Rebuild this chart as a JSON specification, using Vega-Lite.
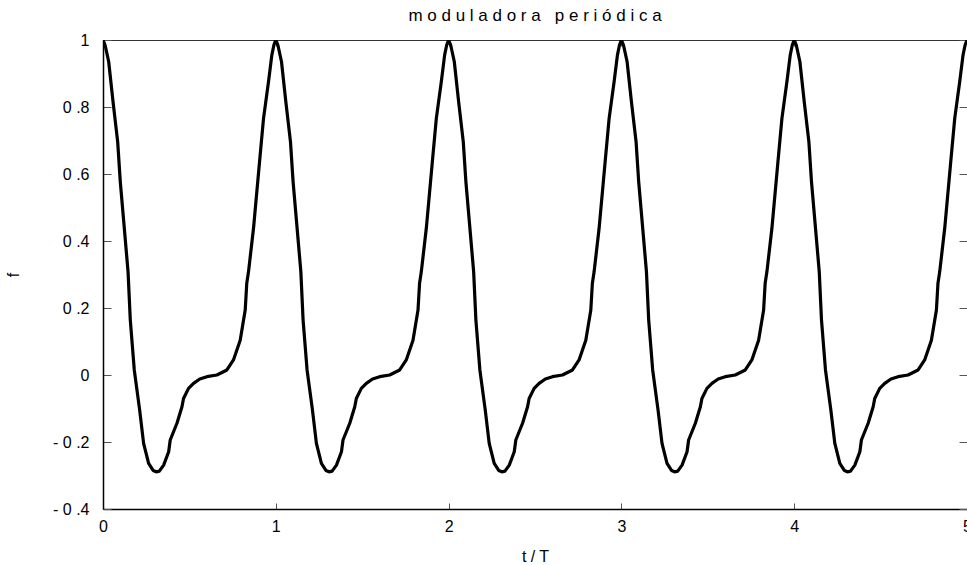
{
  "$schema": "https://vega.github.io/schema/vega-lite/v6.json",
  "width": 864,
  "height": 469,
  "autosize": {"type": "none"},
  "padding": {"left": 103, "top": 40, "right": 0, "bottom": 56},
  "background": "white",
  "config": {
    "view": {"stroke": null},
    "axis": {
      "grid": false,
      "labelFont": "Liberation Sans",
      "titleFont": "Liberation Sans",
      "labelFontSize": 16,
      "titleFontSize": 16,
      "labelColor": "black",
      "titleColor": "black",
      "titleFontWeight": "normal",
      "tickColor": "#555",
      "tickWidth": 1,
      "domainColor": "black",
      "domainWidth": 1.5
    }
  },
  "title": {
    "text": "m o d u l a d o r a \u00a0 p e r i ó d i c a",
    "font": "Liberation Sans",
    "fontSize": 17,
    "fontWeight": "normal",
    "color": "black",
    "anchor": "middle",
    "offset": 7
  },
  "data": {
    "values": [
      {"t":0,"f":1},{"t":0.012,"f":0.985},{"t":0.033,"f":0.935},{"t":0.058,"f":0.816},{"t":0.085,"f":0.696},{"t":0.1,"f":0.577},{"t":0.12,"f":0.458},{"t":0.145,"f":0.308},{"t":0.158,"f":0.164},{"t":0.181,"f":0.015},{"t":0.212,"f":-0.104},{"t":0.235,"f":-0.204},{"t":0.264,"f":-0.264},{"t":0.29,"f":-0.285},{"t":0.308,"f":-0.289},{"t":0.326,"f":-0.287},{"t":0.351,"f":-0.269},{"t":0.38,"f":-0.229},{"t":0.389,"f":-0.194},{"t":0.428,"f":-0.144},{"t":0.457,"f":-0.095},{"t":0.466,"f":-0.07},{"t":0.495,"f":-0.04},{"t":0.524,"f":-0.025},{"t":0.56,"f":-0.012},{"t":0.601,"f":-0.005},{"t":0.659,"f":0},{"t":0.717,"f":0.015},{"t":0.755,"f":0.045},{"t":0.794,"f":0.104},{"t":0.823,"f":0.194},{"t":0.832,"f":0.274},{"t":0.842,"f":0.308},{"t":0.871,"f":0.438},{"t":0.906,"f":0.637},{"t":0.929,"f":0.766},{"t":0.958,"f":0.876},{"t":0.977,"f":0.955},{"t":0.989,"f":0.985},
      {"t":1,"f":1},{"t":1.012,"f":0.985},{"t":1.033,"f":0.935},{"t":1.058,"f":0.816},{"t":1.085,"f":0.696},{"t":1.1,"f":0.577},{"t":1.12,"f":0.458},{"t":1.145,"f":0.308},{"t":1.158,"f":0.164},{"t":1.181,"f":0.015},{"t":1.212,"f":-0.104},{"t":1.235,"f":-0.204},{"t":1.264,"f":-0.264},{"t":1.29,"f":-0.285},{"t":1.308,"f":-0.289},{"t":1.326,"f":-0.287},{"t":1.351,"f":-0.269},{"t":1.38,"f":-0.229},{"t":1.389,"f":-0.194},{"t":1.428,"f":-0.144},{"t":1.457,"f":-0.095},{"t":1.466,"f":-0.07},{"t":1.495,"f":-0.04},{"t":1.524,"f":-0.025},{"t":1.56,"f":-0.012},{"t":1.601,"f":-0.005},{"t":1.659,"f":0},{"t":1.717,"f":0.015},{"t":1.755,"f":0.045},{"t":1.794,"f":0.104},{"t":1.823,"f":0.194},{"t":1.832,"f":0.274},{"t":1.842,"f":0.308},{"t":1.871,"f":0.438},{"t":1.906,"f":0.637},{"t":1.929,"f":0.766},{"t":1.958,"f":0.876},{"t":1.977,"f":0.955},{"t":1.989,"f":0.985},
      {"t":2,"f":1},{"t":2.012,"f":0.985},{"t":2.033,"f":0.935},{"t":2.058,"f":0.816},{"t":2.085,"f":0.696},{"t":2.1,"f":0.577},{"t":2.12,"f":0.458},{"t":2.145,"f":0.308},{"t":2.158,"f":0.164},{"t":2.181,"f":0.015},{"t":2.212,"f":-0.104},{"t":2.235,"f":-0.204},{"t":2.264,"f":-0.264},{"t":2.29,"f":-0.285},{"t":2.308,"f":-0.289},{"t":2.326,"f":-0.287},{"t":2.351,"f":-0.269},{"t":2.38,"f":-0.229},{"t":2.389,"f":-0.194},{"t":2.428,"f":-0.144},{"t":2.457,"f":-0.095},{"t":2.466,"f":-0.07},{"t":2.495,"f":-0.04},{"t":2.524,"f":-0.025},{"t":2.56,"f":-0.012},{"t":2.601,"f":-0.005},{"t":2.659,"f":0},{"t":2.717,"f":0.015},{"t":2.755,"f":0.045},{"t":2.794,"f":0.104},{"t":2.823,"f":0.194},{"t":2.832,"f":0.274},{"t":2.842,"f":0.308},{"t":2.871,"f":0.438},{"t":2.906,"f":0.637},{"t":2.929,"f":0.766},{"t":2.958,"f":0.876},{"t":2.977,"f":0.955},{"t":2.989,"f":0.985},
      {"t":3,"f":1},{"t":3.012,"f":0.985},{"t":3.033,"f":0.935},{"t":3.058,"f":0.816},{"t":3.085,"f":0.696},{"t":3.1,"f":0.577},{"t":3.12,"f":0.458},{"t":3.145,"f":0.308},{"t":3.158,"f":0.164},{"t":3.181,"f":0.015},{"t":3.212,"f":-0.104},{"t":3.235,"f":-0.204},{"t":3.264,"f":-0.264},{"t":3.29,"f":-0.285},{"t":3.308,"f":-0.289},{"t":3.326,"f":-0.287},{"t":3.351,"f":-0.269},{"t":3.38,"f":-0.229},{"t":3.389,"f":-0.194},{"t":3.428,"f":-0.144},{"t":3.457,"f":-0.095},{"t":3.466,"f":-0.07},{"t":3.495,"f":-0.04},{"t":3.524,"f":-0.025},{"t":3.56,"f":-0.012},{"t":3.601,"f":-0.005},{"t":3.659,"f":0},{"t":3.717,"f":0.015},{"t":3.755,"f":0.045},{"t":3.794,"f":0.104},{"t":3.823,"f":0.194},{"t":3.832,"f":0.274},{"t":3.842,"f":0.308},{"t":3.871,"f":0.438},{"t":3.906,"f":0.637},{"t":3.929,"f":0.766},{"t":3.958,"f":0.876},{"t":3.977,"f":0.955},{"t":3.989,"f":0.985},
      {"t":4,"f":1},{"t":4.012,"f":0.985},{"t":4.033,"f":0.935},{"t":4.058,"f":0.816},{"t":4.085,"f":0.696},{"t":4.1,"f":0.577},{"t":4.12,"f":0.458},{"t":4.145,"f":0.308},{"t":4.158,"f":0.164},{"t":4.181,"f":0.015},{"t":4.212,"f":-0.104},{"t":4.235,"f":-0.204},{"t":4.264,"f":-0.264},{"t":4.29,"f":-0.285},{"t":4.308,"f":-0.289},{"t":4.326,"f":-0.287},{"t":4.351,"f":-0.269},{"t":4.38,"f":-0.229},{"t":4.389,"f":-0.194},{"t":4.428,"f":-0.144},{"t":4.457,"f":-0.095},{"t":4.466,"f":-0.07},{"t":4.495,"f":-0.04},{"t":4.524,"f":-0.025},{"t":4.56,"f":-0.012},{"t":4.601,"f":-0.005},{"t":4.659,"f":0},{"t":4.717,"f":0.015},{"t":4.755,"f":0.045},{"t":4.794,"f":0.104},{"t":4.823,"f":0.194},{"t":4.832,"f":0.274},{"t":4.842,"f":0.308},{"t":4.871,"f":0.438},{"t":4.906,"f":0.637},{"t":4.929,"f":0.766},{"t":4.958,"f":0.876},{"t":4.977,"f":0.955},{"t":4.989,"f":0.985},
      {"t":5,"f":1}
    ]
  },
  "layer": [
    {
      "mark": {"type": "line", "color": "black", "strokeWidth": 3.2, "clip": true, "strokeJoin": "round"},
      "encoding": {
        "x": {
          "field": "t", "type": "quantitative",
          "scale": {"domain": [0, 5], "nice": false, "zero": false},
          "axis": {"orient": "bottom", "title": "t / T", "values": [0, 1, 2, 3, 4, 5], "tickSize": -6, "labelPadding": 15, "titlePadding": 14, "labelFlush": false, "labelOverlap": false}
        },
        "y": {
          "field": "f", "type": "quantitative",
          "scale": {"domain": [-0.4, 1], "nice": false, "zero": false},
          "axis": {
            "orient": "left", "title": "f",
            "values": [-0.4, -0.2, 0, 0.2, 0.4, 0.6, 0.8, 1],
            "tickSize": -8, "labelPadding": 22, "titlePadding": 31,
            "labelFlush": false, "labelOverlap": false,
            "labelExpr": "datum.value == 0 ? '0' : datum.value == 1 ? '1' : (datum.value < 0 ? '- 0 .' : '0 .') + abs(round(datum.value * 10))"
          }
        }
      }
    },
    {
      "mark": {"type": "line", "strokeOpacity": 0},
      "encoding": {
        "x": {
          "field": "t", "type": "quantitative",
          "scale": {"domain": [0, 5], "nice": false, "zero": false},
          "axis": {"orient": "top", "title": null, "labels": false, "values": [0, 1, 2, 3, 4, 5], "tickSize": -6, "domainColor": "#333", "domainWidth": 1}
        },
        "y": {
          "field": "f", "type": "quantitative",
          "scale": {"domain": [-0.4, 1], "nice": false, "zero": false},
          "axis": {"orient": "right", "title": null, "labels": false, "domain": false, "values": [-0.4, -0.2, 0, 0.2, 0.4, 0.6, 0.8, 1], "tickSize": -8}
        }
      }
    }
  ],
  "resolve": {"axis": {"x": "independent", "y": "independent"}}
}
